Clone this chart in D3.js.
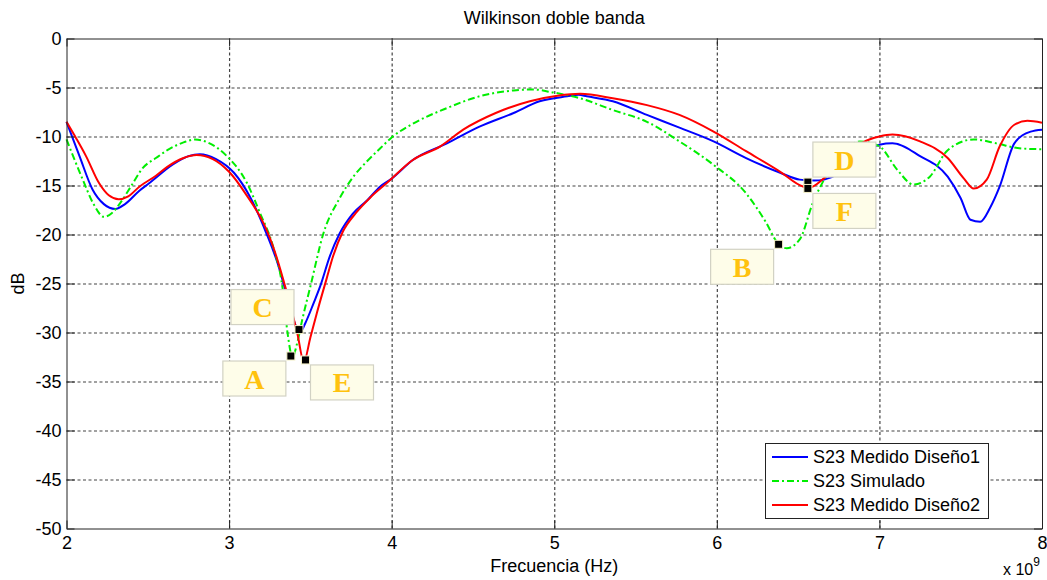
<!DOCTYPE html>
<html>
<head>
<meta charset="utf-8">
<script src="https://cdn.jsdelivr.net/npm/d3@7"></script>
<style>
  body { margin: 0; background: #fff; }
  svg { display: block; font-family: Arial, "Liberation Sans", sans-serif; }
</style>
</head>
<body>
<svg id="chart" width="1047" height="580"></svg>
<script>
// ---- Data (frequency in GHz, S23 in dB) ----
const freqTicks = [2, 3, 4, 5, 6, 7, 8];
const dbTicks = [0, -5, -10, -15, -20, -25, -30, -35, -40, -45, -50];

const medido1Freq = [2.00, 2.08, 2.16, 2.23, 2.30, 2.36, 2.45, 2.51, 2.65, 2.75, 2.82, 2.92, 3.03, 3.13, 3.23, 3.30, 3.36, 3.41, 3.44, 3.47, 3.52, 3.56, 3.62, 3.68, 3.76, 3.85, 3.93, 4.00, 4.13, 4.34, 4.54, 4.75, 4.91, 5.08, 5.15, 5.20, 5.36, 5.57, 5.77, 5.98, 6.18, 6.39, 6.51, 6.60, 6.66, 6.75, 6.88, 7.00, 7.08, 7.25, 7.42, 7.50, 7.56, 7.62, 7.68, 7.74, 7.83, 7.93, 8.00];
const medido1Db   = [-8.5, -12.0, -15.4, -16.9, -17.4, -16.9, -15.5, -14.75, -12.9, -12.0, -11.8, -12.3, -13.7, -16.2, -19.9, -23.0, -26.5, -29.3, -29.9, -29.0, -27.0, -25.3, -22.2, -19.9, -17.9, -16.5, -15.1, -14.3, -12.4, -10.7, -9.0, -7.6, -6.4, -5.9, -5.75, -5.9, -6.4, -7.8, -9.1, -10.5, -12.2, -13.7, -14.4, -14.5, -14.4, -13.8, -12.0, -10.85, -10.7, -12.0, -14.1, -16.3, -18.5, -18.7, -17.3, -15.1, -10.7, -9.5, -9.3];

const simuladoFreq = [2.00, 2.10, 2.17, 2.23, 2.28, 2.33, 2.40, 2.47, 2.55, 2.62, 2.72, 2.79, 2.88, 2.98, 3.11, 3.19, 3.27, 3.33, 3.36, 3.39, 3.42, 3.45, 3.50, 3.58, 3.68, 3.76, 3.85, 3.93, 4.00, 4.13, 4.34, 4.54, 4.75, 4.87, 4.99, 5.16, 5.36, 5.57, 5.77, 5.98, 6.18, 6.30, 6.38, 6.43, 6.51, 6.59, 6.66, 6.75, 6.88, 7.00, 7.11, 7.21, 7.31, 7.42, 7.58, 7.72, 7.86, 8.00];
const simuladoDb   = [-10.3, -14.4, -17.0, -18.2, -17.8, -16.8, -15.0, -13.2, -12.2, -11.4, -10.6, -10.3, -10.7, -11.9, -14.75, -17.8, -21.2, -25.6, -30.1, -32.5, -31.0, -28.7, -25.3, -19.9, -16.3, -14.2, -12.5, -11.2, -10.1, -8.7, -7.1, -5.9, -5.3, -5.2, -5.5, -6.1, -7.3, -8.5, -10.5, -12.9, -15.8, -18.7, -21.0, -21.4, -20.5, -16.8, -14.4, -12.3, -10.5, -11.0, -13.4, -14.9, -14.1, -11.4, -10.3, -10.7, -11.2, -11.3];

const medido2Freq = [2.00, 2.06, 2.12, 2.20, 2.26, 2.32, 2.38, 2.45, 2.55, 2.62, 2.72, 2.80, 2.90, 3.00, 3.10, 3.23, 3.27, 3.35, 3.42, 3.46, 3.50, 3.54, 3.60, 3.64, 3.70, 3.78, 3.87, 3.97, 4.13, 4.30, 4.44, 4.64, 4.85, 5.02, 5.16, 5.36, 5.57, 5.77, 5.98, 6.18, 6.39, 6.53, 6.57, 6.66, 6.78, 6.90, 7.00, 7.08, 7.25, 7.42, 7.52, 7.58, 7.66, 7.74, 7.83, 7.91, 8.00];
const medido2Db   = [-8.5, -10.2, -12.0, -14.75, -16.0, -16.4, -16.1, -15.1, -14.0, -13.1, -12.2, -11.9, -12.3, -13.6, -15.8, -19.5, -21.2, -25.6, -30.1, -33.0, -30.5, -28.0, -24.5, -22.2, -19.7, -17.8, -16.2, -14.75, -12.4, -11.0, -9.3, -7.6, -6.4, -5.85, -5.65, -6.1, -6.8, -7.8, -9.5, -11.5, -13.6, -15.1, -15.2, -14.25, -12.3, -10.6, -10.0, -9.8, -10.5, -12.2, -14.3, -15.3, -14.4, -11.0, -8.8, -8.4, -8.6];

const seriesNames = ["S23 Medido Diseño1", "S23 Simulado", "S23 Medido Diseño2"];

// Data tips: label, frequency (GHz), level (dB)
const tipLabels = ["A", "B", "C", "D", "E", "F"];
const tipFreq   = [3.38, 6.38, 3.43, 6.56, 3.47, 6.56];
const tipDb     = [-32.4, -21.0, -29.7, -14.65, -32.8, -15.3];
// Which side of its point each tip box sits on
const tipSide   = ["lowerLeft", "lowerLeft", "upperLeft", "upperRight", "lowerRight", "lowerRight"];

// ---- Layout ----
const svg = d3.select("#chart");
const plotLeft = 66.5, plotRight = 1042, plotTop = 38.5, plotBottom = 528.5;

const x = d3.scaleLinear().domain([2, 8]).range([plotLeft, plotRight]);
const y = d3.scaleLinear().domain([-50, 0]).range([plotBottom, plotTop]);

const series = [
  { name: seriesNames[0], f: medido1Freq, v: medido1Db, color: "#0000ff", dash: null },
  { name: seriesNames[1], f: simuladoFreq, v: simuladoDb, color: "#00ee00", dash: "7,3,2,3" },
  { name: seriesNames[2], f: medido2Freq, v: medido2Db, color: "#ff0000", dash: null }
];

const plainNum = d => String(d);   // "-5" with a plain hyphen, no decimals

// Title
svg.append("text")
  .attr("x", (plotLeft + plotRight) / 2).attr("y", 24)
  .attr("text-anchor", "middle")
  .attr("font-size", 18).attr("fill", "#000")
  .text("Wilkinson doble banda");

// Grid lines (dotted)
const grid = svg.append("g").attr("class", "grid");
grid.append("g")
  .attr("transform", `translate(0,${plotBottom})`)
  .call(d3.axisBottom(x).tickValues(freqTicks.slice(1, -1)).tickSize(-(plotBottom - plotTop)).tickFormat(""))
  .call(g => g.select(".domain").remove());
grid.append("g")
  .attr("transform", `translate(${plotLeft},0)`)
  .call(d3.axisLeft(y).tickValues(dbTicks.slice(1, -1)).tickSize(-(plotRight - plotLeft)).tickFormat(""))
  .call(g => g.select(".domain").remove());
grid.selectAll("line")
  .attr("stroke", "#444").attr("stroke-width", 1.2).attr("stroke-dasharray", "3,2.5");

// Curves
const line = d3.line()
  .x(d => x(d[0])).y(d => y(d[1]))
  .curve(d3.curveMonotoneX);

const curves = svg.append("g");
series.forEach(s => {
  const pts = s.f.map((f, i) => [f, s.v[i]]);
  curves.append("path")
    .datum(pts)
    .attr("d", line)
    .attr("fill", "none")
    .attr("stroke", s.color)
    .attr("stroke-width", 2)
    .attr("stroke-linejoin", "round")
    .attr("stroke-dasharray", s.dash);
});

// Axes box with inward ticks
const axisStyle = g => {
  g.selectAll(".domain").attr("stroke", "#222");
  g.selectAll(".tick line").attr("stroke", "#222");
  g.selectAll(".tick text").attr("font-size", 18).attr("fill", "#000")
    .attr("font-family", "Arial, 'Liberation Sans', sans-serif");
};
svg.append("g")
  .attr("transform", `translate(0,${plotBottom})`)
  .call(d3.axisBottom(x).tickValues(freqTicks).tickFormat(plainNum).tickSizeInner(-8).tickSizeOuter(0).tickPadding(8))
  .call(axisStyle);
svg.append("g")
  .attr("transform", `translate(0,${plotTop})`)
  .call(d3.axisTop(x).tickValues(freqTicks).tickSizeInner(-8).tickSizeOuter(0).tickFormat(""))
  .call(axisStyle);
svg.append("g")
  .attr("transform", `translate(${plotLeft},0)`)
  .call(d3.axisLeft(y).tickValues(dbTicks).tickFormat(plainNum).tickSizeInner(-8).tickSizeOuter(0).tickPadding(5))
  .call(axisStyle);
svg.append("g")
  .attr("transform", `translate(${plotRight},0)`)
  .call(d3.axisRight(y).tickValues(dbTicks).tickSizeInner(-8).tickSizeOuter(0).tickFormat(""))
  .call(axisStyle);

// Axis labels
svg.append("text")
  .attr("transform", `translate(24,${(plotTop + plotBottom) / 2}) rotate(-90)`)
  .attr("text-anchor", "middle").attr("font-size", 18)
  .text("dB");
svg.append("text")
  .attr("x", (plotLeft + plotRight) / 2).attr("y", 572)
  .attr("text-anchor", "middle").attr("font-size", 18)
  .text("Frecuencia (Hz)");
const expo = svg.append("text").attr("x", 1003).attr("y", 575).attr("font-size", 16);
expo.append("tspan").text("x 10");
expo.append("tspan").attr("dy", -9).attr("font-size", 12).text("9");

// Data tips: marker squares and labelled boxes
const boxW = 63, boxH = 35, gap = 5;
const tips = svg.append("g");
tipLabels.forEach((lab, i) => {
  const px = x(tipFreq[i]), py = y(tipDb[i]);
  const side = tipSide[i];
  const bx = side.endsWith("Left") ? px - gap - boxW : px + gap;
  const by = side.startsWith("upper") ? py - gap - boxH : py + gap;
  tips.append("rect")
    .attr("x", bx).attr("y", by).attr("width", boxW).attr("height", boxH)
    .attr("fill", "#fefde9").attr("stroke", "#d2d2c4").attr("stroke-width", 1.2);
  tips.append("text")
    .attr("x", bx + boxW / 2).attr("y", by + boxH / 2 + 10)
    .attr("text-anchor", "middle")
    .attr("font-family", "'Liberation Serif', 'DejaVu Serif', serif")
    .attr("font-weight", "bold").attr("font-size", 28)
    .attr("fill", "#ffc20e")
    .text(lab);
  tips.append("rect")
    .attr("x", px - 4).attr("y", py - 4).attr("width", 8).attr("height", 8)
    .attr("fill", "#000").attr("stroke", "#f6f2c8").attr("stroke-width", 1);
});

// Legend
const lg = svg.append("g");
lg.append("rect")
  .attr("x", 765.5).attr("y", 443.5).attr("width", 223).attr("height", 75)
  .attr("fill", "#fff").attr("stroke", "#222");
series.forEach((s, i) => {
  const ly = 457 + i * 24;
  lg.append("line")
    .attr("x1", 772).attr("x2", 808).attr("y1", ly).attr("y2", ly)
    .attr("stroke", s.color).attr("stroke-width", 2)
    .attr("stroke-dasharray", s.dash);
  lg.append("text")
    .attr("x", 813).attr("y", ly + 6)
    .attr("font-size", 18).attr("fill", "#000")
    .text(s.name);
});
</script>
</body>
</html>
